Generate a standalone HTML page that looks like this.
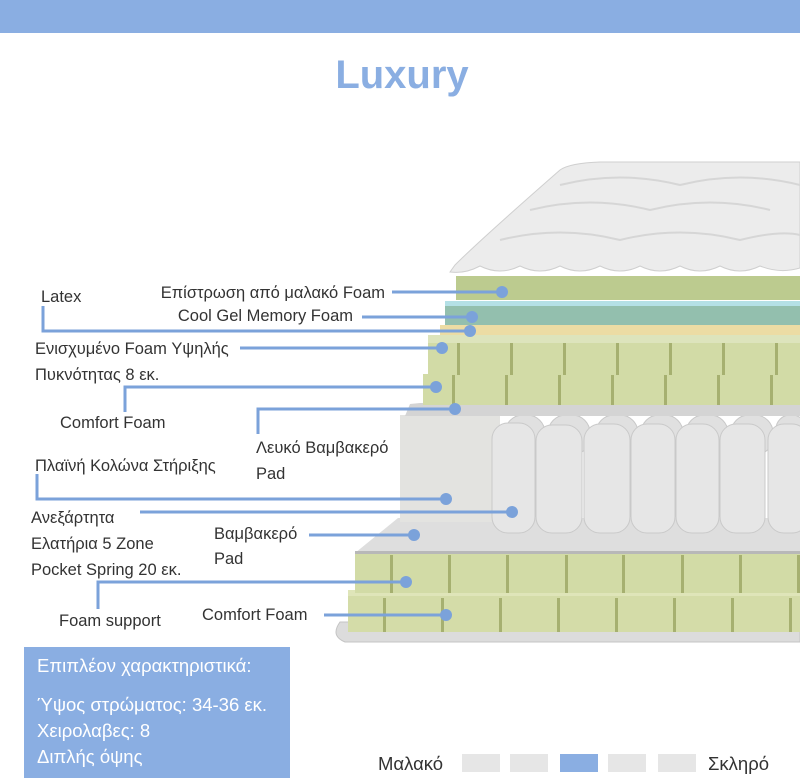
<!DOCTYPE html>
<html><head><meta charset="utf-8"><style>
html,body{margin:0;padding:0;background:#fff;}
svg{display:block;}
text{font-family:"Liberation Sans",sans-serif;}
</style></head><body>
<svg width="800" height="778" viewBox="0 0 800 778" xmlns="http://www.w3.org/2000/svg">
<rect x="0" y="0" width="800" height="33" fill="#8aaee2"/>
<text x="402" y="88" text-anchor="middle" font-size="40" font-weight="bold" fill="#8aaee2">Luxury</text>

<!-- base cover -->
<path d="M340 622 Q330 636 345 642 L800 642 L800 620 Z" fill="#dcdcdc" stroke="#c4c4c4"/>
<!-- bottom comfort foam -->
<rect x="348" y="590" width="452" height="42" fill="#d4dca8"/>
<g fill="#a6b070"><rect x="383" y="598" width="3" height="34"/><rect x="441" y="598" width="3" height="34"/><rect x="499" y="598" width="3" height="34"/><rect x="557" y="598" width="3" height="34"/><rect x="615" y="598" width="3" height="34"/><rect x="673" y="598" width="3" height="34"/><rect x="731" y="598" width="3" height="34"/><rect x="789" y="598" width="3" height="34"/></g>
<rect x="348" y="590" width="452" height="6" fill="#dfe5b9"/>
<!-- foam support -->
<rect x="355" y="553" width="445" height="40" fill="#d2dba6"/>
<g fill="#a6b070"><rect x="390" y="555" width="3" height="38"/><rect x="448" y="555" width="3" height="38"/><rect x="506" y="555" width="3" height="38"/><rect x="565" y="555" width="3" height="38"/><rect x="622" y="555" width="3" height="38"/><rect x="681" y="555" width="3" height="38"/><rect x="739" y="555" width="3" height="38"/><rect x="797" y="555" width="3" height="38"/></g>
<!-- cotton pad -->
<polygon points="355,553 398,518 800,518 800,553" fill="#dedede"/>
<rect x="355" y="551" width="445" height="3" fill="#b8b8b8"/>
<!-- side column -->
<rect x="400" y="415" width="100" height="107" fill="#e3e3e0"/>
<!-- springs back row -->
<g fill="#e0e0e0" stroke="#c8c8c8">
<rect x="505" y="415" width="40" height="40" rx="18"/><rect x="548" y="415" width="42" height="40" rx="18"/><rect x="596" y="415" width="42" height="40" rx="18"/><rect x="641" y="415" width="42" height="40" rx="18"/><rect x="686" y="415" width="42" height="40" rx="18"/><rect x="731" y="415" width="42" height="40" rx="18"/><rect x="776" y="415" width="30" height="40" rx="14"/>
</g>
<!-- springs front row -->
<g fill="#e6e6e6" stroke="#c9c9c9">
<rect x="492" y="423" width="43" height="110" rx="16"/><rect x="536" y="425" width="46" height="108" rx="16"/><rect x="584" y="424" width="46" height="109" rx="16"/><rect x="631" y="424" width="44" height="109" rx="16"/><rect x="676" y="424" width="43" height="109" rx="16"/><rect x="720" y="424" width="45" height="109" rx="16"/><rect x="768" y="424" width="40" height="109" rx="16"/>
</g>
<!-- gray pad -->
<polygon points="410,404 420,403 800,403 800,416 405,416" fill="#d4d4d4"/>
<!-- comfort foam 2 -->
<rect x="423" y="374" width="377" height="31" fill="#d2dba6"/>
<g fill="#a6b070"><rect x="452" y="375" width="3" height="30"/><rect x="505" y="375" width="3" height="30"/><rect x="558" y="375" width="3" height="30"/><rect x="611" y="375" width="3" height="30"/><rect x="664" y="375" width="3" height="30"/><rect x="717" y="375" width="3" height="30"/><rect x="770" y="375" width="3" height="30"/></g>
<!-- comfort foam 1 -->
<rect x="428" y="335" width="372" height="39" fill="#d2dba6"/>
<rect x="428" y="335" width="372" height="8" fill="#dde4bc"/>
<g fill="#a6b070"><rect x="457" y="343" width="3" height="32"/><rect x="510" y="343" width="3" height="32"/><rect x="563" y="343" width="3" height="32"/><rect x="616" y="343" width="3" height="32"/><rect x="669" y="343" width="3" height="32"/><rect x="722" y="343" width="3" height="32"/><rect x="775" y="343" width="3" height="32"/></g>
<!-- latex -->
<rect x="440" y="325" width="360" height="10" fill="#ecdca4"/>
<!-- cool gel -->
<rect x="445" y="301" width="355" height="24" fill="#93bfae"/>
<rect x="445" y="301" width="355" height="5" fill="#b4e0e6"/>
<!-- top foam -->
<rect x="456" y="276" width="344" height="24" fill="#bccb8f"/>
<!-- cover -->
<path d="M450 272 L455 265 Q480 240 560 170 Q570 163 600 162 L800 162 L800 268 Q780 274 760 266 Q740 276 720 266 Q700 276 680 266 Q660 276 640 266 Q620 276 600 266 Q580 276 560 266 Q540 276 520 266 Q500 276 480 266 Q465 274 450 272 Z" fill="#ececec" stroke="#cfcfcf"/>
<g fill="none" stroke="#d6d6d6" stroke-width="2">
<path d="M500 240 Q560 225 620 240 Q680 225 740 240 Q780 230 800 235"/>
<path d="M530 210 Q590 195 650 210 Q710 195 770 210"/>
<path d="M560 185 Q620 170 680 185 Q740 170 800 185"/>
</g>

<!-- connectors -->
<g stroke="#7ba2da" stroke-width="3" fill="none">
<path d="M392 292 H502"/>
<path d="M362 317 H472"/>
<path d="M43 306 V331 H470"/>
<path d="M240 348 H442"/>
<path d="M125 412 V387 H436"/>
<path d="M258 434 V409 H455"/>
<path d="M37 474 V499 H446"/>
<path d="M140 512 H512"/>
<path d="M309 535 H414"/>
<path d="M98 609 V582 H406"/>
<path d="M324 615 H446"/>
</g>
<g fill="#7ba2da">
<circle cx="502" cy="292" r="6"/><circle cx="472" cy="317" r="6"/><circle cx="470" cy="331" r="6"/><circle cx="442" cy="348" r="6"/><circle cx="436" cy="387" r="6"/><circle cx="455" cy="409" r="6"/><circle cx="446" cy="499" r="6"/><circle cx="512" cy="512" r="6"/><circle cx="414" cy="535" r="6"/><circle cx="406" cy="582" r="6"/><circle cx="446" cy="615" r="6"/>
</g>

<g font-size="16.5" fill="#333">
<text x="41" y="302">Latex</text>
<text x="385" y="298" text-anchor="end">Επίστρωση από μαλακό Foam</text>
<text x="353" y="321" text-anchor="end">Cool Gel Memory Foam</text>
<text x="35" y="354">Ενισχυμένο Foam Υψηλής</text>
<text x="35" y="380">Πυκνότητας 8 εκ.</text>
<text x="60" y="428">Comfort Foam</text>
<text x="256" y="453">Λευκό Βαμβακερό</text>
<text x="256" y="479">Pad</text>
<text x="35" y="471">Πλαϊνή Κολώνα Στήριξης</text>
<text x="31" y="523">Ανεξάρτητα</text>
<text x="31" y="549">Ελατήρια 5 Zone</text>
<text x="31" y="575">Pocket Spring 20 εκ.</text>
<text x="214" y="539">Βαμβακερό</text>
<text x="214" y="564">Pad</text>
<text x="59" y="626">Foam support</text>
<text x="202" y="620">Comfort Foam</text>
</g>

<rect x="24" y="647" width="266" height="131" fill="#8aaee2"/>
<g font-size="18.5" fill="#fff">
<text x="37" y="672">Επιπλέον χαρακτηριστικά:</text>
<text x="37" y="711">Ύψος στρώματος: 34-36 εκ.</text>
<text x="37" y="737">Χειρολαβες: 8</text>
<text x="37" y="763">Διπλής όψης</text>
</g>

<text x="378" y="770" font-size="18.5" fill="#333">Μαλακό</text>
<rect x="462" y="754" width="38" height="18" fill="#e6e6e6"/>
<rect x="510" y="754" width="38" height="18" fill="#e6e6e6"/>
<rect x="560" y="754" width="38" height="18" fill="#8aaee2"/>
<rect x="608" y="754" width="38" height="18" fill="#e6e6e6"/>
<rect x="658" y="754" width="38" height="18" fill="#e6e6e6"/>
<text x="708" y="770" font-size="18.5" fill="#333">Σκληρό</text>
</svg>
</body></html>
